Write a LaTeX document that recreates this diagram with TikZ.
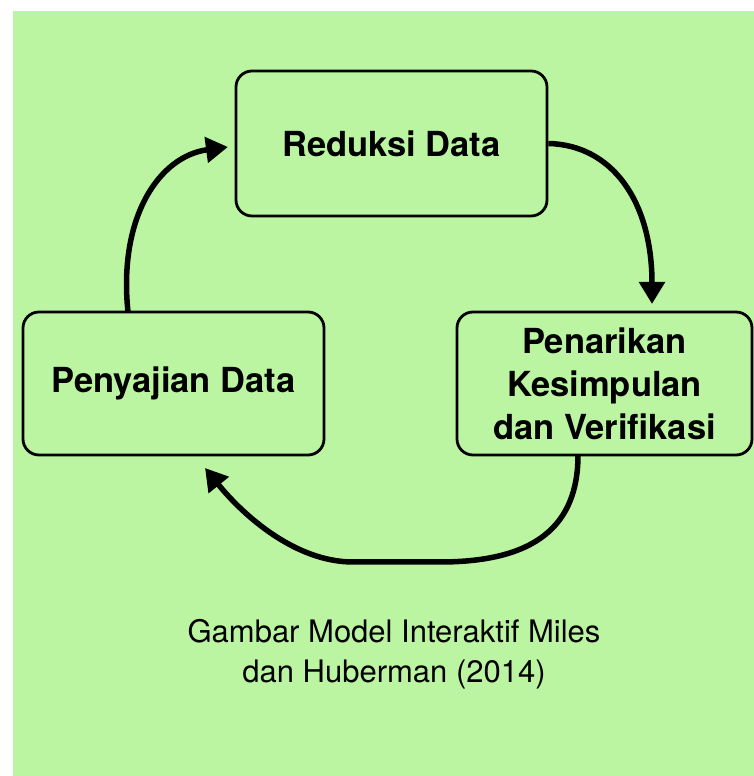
\documentclass[tikz,border=0pt]{standalone}
\usepackage{fontspec}
\setmainfont{TeX Gyre Heros}
\usetikzlibrary{arrows.meta}
\definecolor{bggreen}{RGB}{188,245,161}
\tikzset{
  box/.style={draw=black, line width=2.8pt, rounded corners=16pt, fill=bggreen,
    align=center, font=\fontsize{34.5}{40}\selectfont\bfseries, inner sep=0pt},
  flow/.style={line width=5.5pt, -{Triangle[length=22pt,width=25pt]}},
  caption/.style={align=center, font=\fontsize{31}{40}\selectfont, inner sep=0pt}
}
\begin{document}
\begin{tikzpicture}[x=1pt,y=1pt]
\useasboundingbox (0,0) rectangle (754,776);
\fill[white] (0,0) rectangle (754,776);
\fill[bggreen] (13,0) rectangle (754,765);
\node[box, minimum width=311pt, minimum height=145pt] (red) at (391.5,632.5) {Reduksi Data};
\node[box, minimum width=301pt, minimum height=143pt] (pey) at (173.5,392.5) {Penyajian Data};
\node[box, minimum width=295pt, minimum height=143pt, font=\fontsize{34.5}{43}\selectfont\bfseries] (pen) at (604.5,392.5) {Penarikan\\Kesimpulan\\dan Verifikasi};
\coordinate (t1) at (652,472);
\coordinate (s2) at (578,321);
\coordinate (t2) at (205,308);
\coordinate (s3) at (128,464);
\coordinate (t3) at (228,629);
\draw[flow] (red.east) .. controls (612,631) and (652,575) .. (t1);
\draw[flow] (s2) .. controls (578,250) and (535,214) .. (440,214) -- (353,214)
  .. controls (295,214) and (243,261) .. (t2);
\draw[flow] (s3) .. controls (118,560) and (160,620) .. (t3);
\node[caption] (cap) at (394,122) {Gambar Model Interaktif Miles\\dan Huberman (2014)};
\end{tikzpicture}
\end{document}
